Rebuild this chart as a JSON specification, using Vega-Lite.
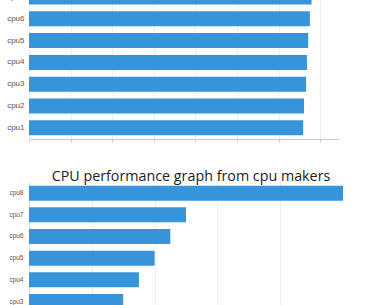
{
  "$schema": "https://vega.github.io/schema/vega-lite/v6.json",
  "padding": {"top": -36, "left": 6, "right": 0, "bottom": 0},
  "background": "white",
  "spacing": 26,
  "config": {"view": {"stroke": null}, "font": "Open Sans"},
  "data": {"values": [
    {"cpu": "cpu1", "score": 659, "maker_score": 1.0},
    {"cpu": "cpu2", "score": 661, "maker_score": 1.25},
    {"cpu": "cpu3", "score": 666, "maker_score": 1.5},
    {"cpu": "cpu4", "score": 668, "maker_score": 1.75},
    {"cpu": "cpu5", "score": 671, "maker_score": 2.0},
    {"cpu": "cpu6", "score": 675, "maker_score": 2.25},
    {"cpu": "cpu7", "score": 679, "maker_score": 2.5},
    {"cpu": "cpu8", "score": 683, "maker_score": 5.0}
  ]},
  "vconcat": [
    {
      "width": 310,
      "height": 175,
      "mark": {"type": "bar", "color": "#3794DB"},
      "encoding": {
        "y": {"field": "cpu", "type": "nominal", "sort": "descending",
          "scale": {"paddingInner": 0.31, "paddingOuter": 0.17},
          "axis": {"title": null, "domain": false, "ticks": false, "labelFontSize": 8, "labelColor": "#555", "labelPadding": 5, "labelFont": "Liberation Sans"}},
        "x": {"field": "score", "type": "quantitative",
          "scale": {"domain": [0, 745], "nice": false},
          "axis": {"title": null, "labels": false, "grid": true, "gridColor": "#eeeeee", "values": [0, 100, 200, 300, 400, 500, 600, 700], "domainColor": "#cccccc", "tickColor": "#cccccc", "tickSize": 3}}
      }
    },
    {
      "width": 314,
      "height": 174,
      "title": {"text": "CPU performance graph from cpu makers", "fontSize": 14.3, "fontWeight": "normal", "color": "#222222", "font": "Open Sans", "baseline": "alphabetic", "offset": -13, "dx": 5},
      "mark": {"type": "bar", "color": "#3794DB"},
      "encoding": {
        "y": {"field": "cpu", "type": "nominal", "sort": "descending",
          "scale": {"paddingInner": 0.31, "paddingOuter": 0.17},
          "axis": {"title": null, "domain": true, "domainColor": "#dddddd", "ticks": false, "labelFontSize": 6.5, "labelColor": "#555", "labelPadding": 6, "labelFont": "Liberation Sans"}},
        "x": {"field": "maker_score", "type": "quantitative",
          "scale": {"domain": [0, 5], "nice": false},
          "axis": {"title": null, "labels": false, "grid": true, "gridColor": "#eeeeee", "values": [1, 2, 3, 4, 5], "domain": false, "ticks": false}}
      }
    }
  ]
}
